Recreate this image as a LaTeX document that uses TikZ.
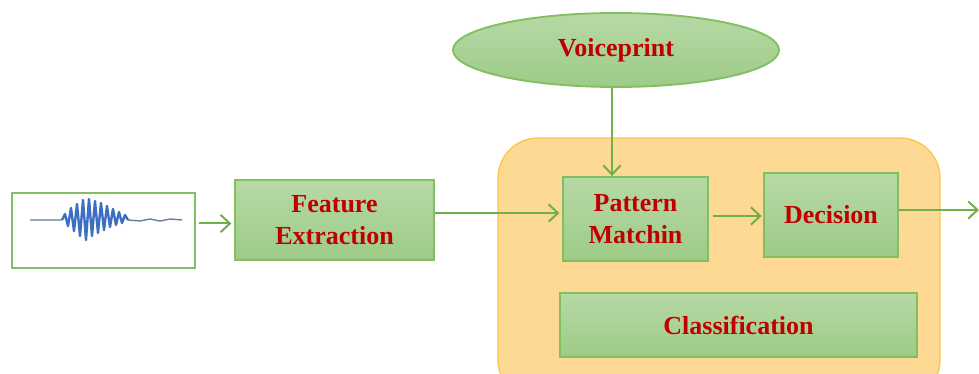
\documentclass[tikz,border=0pt]{standalone}
\usepackage{fontspec}
\setmainfont{Liberation Serif}
\usetikzlibrary{shapes.geometric,arrows.meta}
\definecolor{boxtop}{HTML}{B7D9A6}
\definecolor{boxbot}{HTML}{9DCB86}
\definecolor{boxline}{HTML}{82BF62}
\definecolor{arrowc}{HTML}{70B04A}
\definecolor{txtred}{HTML}{C00000}
\definecolor{orfill}{HTML}{FDD993}
\definecolor{orline}{HTML}{F8C84C}
\definecolor{wave}{HTML}{3C6FC2}
\tikzset{
  gbox/.style={draw=boxline, line width=1.4pt, top color=boxtop, bottom color=boxbot,
    align=center, inner sep=0pt, text=txtred, font=\fontsize{19.5}{24}\selectfont\bfseries},
  conn/.style={draw=arrowc, line width=1.5pt, -{Straight Barb[length=7pt,width=13pt,line width=1.5pt]}}
}
\begin{document}
\begin{tikzpicture}[x=0.75pt,y=-0.75pt]
\useasboundingbox (0,0) rectangle (979,374);
\begin{scope}
\clip (0,0) rectangle (979,374);
\fill[orfill, draw=orline, line width=1pt, rounded corners=30pt] (498,138) rectangle (940,400);
\end{scope}
% waveform box
\node[draw=boxline, line width=1.4pt, fill=white, minimum width=137.25pt, minimum height=56.25pt, inner sep=0pt] (wavebox) at (103.5,230.5) {};
\draw[gray!60!wave, line width=1pt] (30,220) -- (62,220) (128,220) -- (140,221) -- (150,219) -- (160,221) -- (170,219) -- (182,220);
\draw[wave, line width=1.8pt, line join=round] (62,220)
  -- (65,214) -- (68,226) -- (71,208) -- (74,231) -- (77,204) -- (80,236)
  -- (83,200) -- (86,240) -- (89,199) -- (92,236) -- (95,201) -- (98,233)
  -- (101,203) -- (104,230) -- (107,206) -- (110,227) -- (113,209) -- (116,225)
  -- (119,212) -- (122,223) -- (125,215) -- (128,220);
% boxes
\node[gbox, minimum width=149.25pt, minimum height=60pt] (feat) at (334.5,220) {Feature\\Extraction};
\node[gbox, minimum width=108.75pt, minimum height=63pt] (patt) at (635.5,219) {Pattern\\Matchin};
\node[gbox, minimum width=100.5pt, minimum height=63pt] (dec) at (831,215) {Decision};
\node[gbox, minimum width=267.75pt, minimum height=48pt] (cls) at (738.5,325) {Classification};
\node[gbox, ellipse, minimum width=244.5pt, minimum height=55.5pt] (voice) at (616,50) {Voiceprint};
\coordinate (out) at (979,210);
% connectors
\draw[conn, shorten <=2pt, shorten >=2pt] ([yshift=5.25pt]wavebox.east) -- ([yshift=5.25pt]wavebox.east -| feat.west);
\draw[conn, shorten >=2pt] ([yshift=5.25pt]feat.east) -- ([yshift=5.25pt]feat.east -| patt.west);
\draw[conn, shorten <=3pt, shorten >=1pt] ([yshift=2.25pt]patt.east) -- ([yshift=2.25pt]patt.east -| dec.west);
\draw[conn] ([yshift=3.75pt]dec.east) -- (out);
\draw[conn] ([xshift=-3pt]voice.south) -- ([xshift=-3pt]voice.south |- patt.north);
\end{tikzpicture}
\end{document}
